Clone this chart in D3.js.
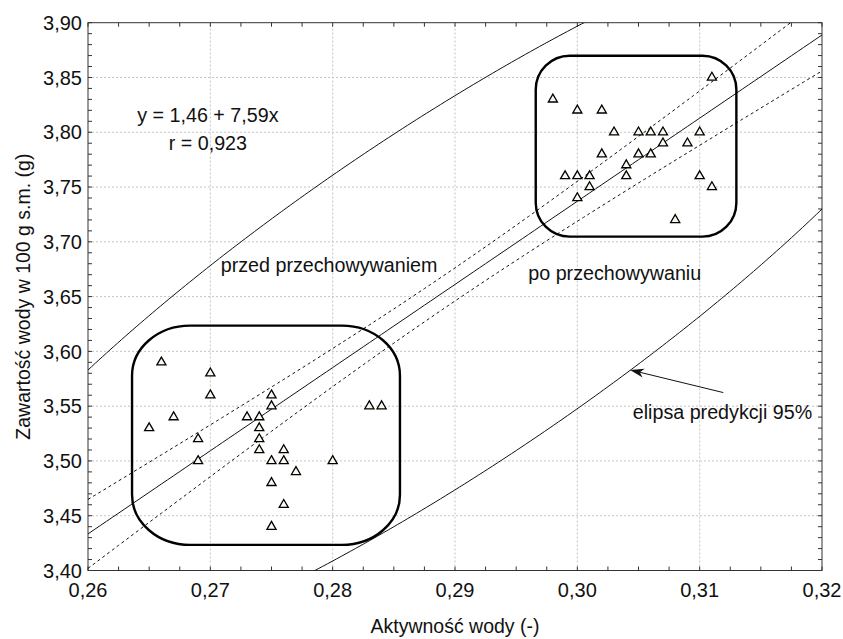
<!DOCTYPE html>
<html><head><meta charset="utf-8">
<script src="https://cdn.jsdelivr.net/npm/d3@7"></script>
<style>
body{margin:0;background:#fff}
text{font-family:"Liberation Sans",Arial,sans-serif;fill:#111}
</style>
</head><body>
<svg id="chart" width="843" height="639"></svg>
<script>
// ---- data ----
const xBefore = [0.266,0.270,0.270,0.275,0.275,0.267,0.273,0.274,0.265,0.274,0.269,0.274,0.274,0.276,0.269,0.275,0.276,0.280,0.277,0.275,0.276,0.283,0.284,0.275];
const yBefore = [3.59,3.58,3.56,3.56,3.55,3.54,3.54,3.54,3.53,3.53,3.52,3.52,3.51,3.51,3.50,3.50,3.50,3.50,3.49,3.48,3.46,3.55,3.55,3.44];
const xAfter = [0.311,0.298,0.300,0.302,0.303,0.305,0.306,0.307,0.310,0.307,0.309,0.302,0.305,0.306,0.304,0.299,0.300,0.301,0.304,0.310,0.301,0.311,0.300,0.308];
const yAfter = [3.85,3.83,3.82,3.82,3.80,3.80,3.80,3.80,3.80,3.79,3.79,3.78,3.78,3.78,3.77,3.76,3.76,3.76,3.76,3.76,3.75,3.75,3.74,3.72];
const xTicks = [0.26,0.27,0.28,0.29,0.30,0.31,0.32];
const yTicks = [3.40,3.45,3.50,3.55,3.60,3.65,3.70,3.75,3.80,3.85,3.90];
const intercept = 1.46, slope = 7.59, rValue = 0.923;
const tCrit = 2.013;                  // t(0.975, n-2)
const ellipseCenter = [0.2892, 3.648];
const ellipseSemi = [0.0445, 0.355];  // x, y extents of prediction ellipse
const ellipseRho = 0.862;
const groupBoxes = [[0.2636,0.2855,3.4234,3.6235],[0.2966,0.3130,3.7047,3.8699]];
const groupLabels = ["przed przechowywaniem","po przechowywaniu"];
const eqLabel = "y = 1,46 + 7,59x", rLabel = "r = 0,923", ellLabel = "elipsa predykcji 95%";
const xTitle = "Aktywność wody (-)", yTitle = "Zawartość wody w 100 g s.m. (g)";

// ---- layout ----
const W = 843, H = 639;
const m = {left: 88, right: 21, top: 22.7, bottom: 68.5};
const svg = d3.select("#chart");
const x = d3.scaleLinear().domain([0.26,0.32]).range([m.left, W - m.right]);
const y = d3.scaleLinear().domain([3.40,3.90]).range([H - m.bottom, m.top]);
const fmt = v => d3.format(".2f")(v).replace(".", ",");

svg.append("defs").append("clipPath").attr("id","clip")
  .append("rect").attr("x",x(0.26)).attr("y",y(3.90))
  .attr("width",x(0.32)-x(0.26)).attr("height",y(3.40)-y(3.90));

// grid
const grid = svg.append("g").attr("stroke","#c4c4c4").attr("stroke-width",1).attr("stroke-dasharray","2,2");
xTicks.slice(1,-1).forEach(v => grid.append("line").attr("x1",x(v)).attr("x2",x(v)).attr("y1",y(3.40)).attr("y2",y(3.90)));
yTicks.slice(1,-1).forEach(v => grid.append("line").attr("y1",y(v)).attr("y2",y(v)).attr("x1",x(0.26)).attr("x2",x(0.32)));

// frame + inward ticks
const frame = svg.append("g").attr("stroke","#333").attr("stroke-width",1);
frame.append("rect").attr("x",x(0.26)).attr("y",y(3.90)).attr("width",x(0.32)-x(0.26)).attr("height",y(3.40)-y(3.90)).attr("fill","none");
const tl = 4;
d3.range(0,25).map(i => 0.26 + i*0.0025).forEach(v => {
  frame.append("line").attr("x1",x(v)).attr("x2",x(v)).attr("y1",y(3.40)).attr("y2",y(3.40)-tl);
  frame.append("line").attr("x1",x(v)).attr("x2",x(v)).attr("y1",y(3.90)).attr("y2",y(3.90)+tl);
});
d3.range(0,51).map(i => 3.40 + i*0.01).forEach(v => {
  frame.append("line").attr("y1",y(v)).attr("y2",y(v)).attr("x1",x(0.26)).attr("x2",x(0.26)+tl);
  frame.append("line").attr("y1",y(v)).attr("y2",y(v)).attr("x1",x(0.32)).attr("x2",x(0.32)-tl);
});

// tick labels
svg.append("g").selectAll("text").data(yTicks).join("text")
  .attr("x", m.left - 6).attr("y", d => y(d)).attr("dy","0.36em")
  .attr("text-anchor","end").attr("font-size",20).text(fmt);
svg.append("g").selectAll("text").data(xTicks).join("text")
  .attr("x", d => x(d)).attr("y", H - m.bottom + 26)
  .attr("text-anchor","middle").attr("font-size",20).text(fmt);

// axis titles
svg.append("text").attr("x",(x(0.26)+x(0.32))/2).attr("y",633).attr("text-anchor","middle").attr("font-size",19.5).text(xTitle);
svg.append("text").attr("transform",`translate(30,${(y(3.40)+y(3.90))/2}) rotate(-90)`).attr("text-anchor","middle").attr("font-size",19.5).text(yTitle);

// stats
const xs = xBefore.concat(xAfter), ys = yBefore.concat(yAfter);
const n = xs.length, mx = d3.mean(xs);
const sxx = d3.sum(xs, v => (v-mx)*(v-mx));
const sse = d3.sum(xs.map((v,i) => { const r = ys[i] - (intercept + slope*v); return r*r; }));
const se = Math.sqrt(sse/(n-2));

const plot = svg.append("g").attr("clip-path","url(#clip)");
const xGrid = d3.range(0,121).map(i => 0.26 + i*0.0005);
const lineGen = d3.line().x(d => x(d[0])).y(d => y(d[1]));
// regression line
plot.append("path").attr("d", lineGen(xGrid.map(v => [v, intercept + slope*v])))
  .attr("fill","none").attr("stroke","#111").attr("stroke-width",1);
// confidence band
[-1,1].forEach(sgn => {
  plot.append("path").attr("d", lineGen(xGrid.map(v => [v, intercept + slope*v + sgn*tCrit*se*Math.sqrt(1/n + (v-mx)*(v-mx)/sxx)])))
    .attr("fill","none").attr("stroke","#111").attr("stroke-width",1).attr("stroke-dasharray","3,3");
});
// prediction ellipse
const tt = d3.range(0,721).map(i => i*Math.PI/360);
const rr = Math.sqrt(1-ellipseRho*ellipseRho);
const ell = tt.map(t => [ellipseCenter[0] + ellipseSemi[0]*Math.cos(t), ellipseCenter[1] + ellipseSemi[1]*(ellipseRho*Math.cos(t) + rr*Math.sin(t))]);
plot.append("path").attr("d", lineGen(ell) + "Z").attr("fill","none").attr("stroke","#111").attr("stroke-width",1);

// group boxes
groupBoxes.forEach((b,i) => {
  const rx = i === 0 ? 58 : 34, ry = i === 0 ? 50 : 34;
  svg.append("rect").attr("x",x(b[0])).attr("y",y(b[3])).attr("width",x(b[1])-x(b[0])).attr("height",y(b[2])-y(b[3]))
    .attr("rx",rx).attr("ry",ry).attr("fill","none").attr("stroke","#000").attr("stroke-width",2.4);
});

// points
const sym = d3.symbol().type(d3.symbolTriangle).size(36);
svg.append("g").selectAll("path").data(xs.map((v,i) => [v, ys[i]])).join("path")
  .attr("d", sym).attr("transform", d => `translate(${x(d[0])},${y(d[1])})`)
  .attr("fill","#fcf8ee").attr("stroke","#000").attr("stroke-width",1.3);

// annotations
svg.append("text").attr("x",x(0.2698)).attr("y",y(3.8158)).attr("dy","0.36em").attr("text-anchor","middle").attr("font-size",19.7).text(eqLabel);
svg.append("text").attr("x",x(0.2698)).attr("y",y(3.7902)).attr("dy","0.36em").attr("text-anchor","middle").attr("font-size",19.7).text(rLabel);
svg.append("text").attr("x",x(0.27085)).attr("y",y(3.6789)).attr("dy","0.36em").attr("font-size",19.7).text(groupLabels[0]);
svg.append("text").attr("x",x(0.29599)).attr("y",y(3.6713)).attr("dy","0.36em").attr("font-size",19.7).text(groupLabels[1]);
svg.append("text").attr("x",x(0.30453)).attr("y",y(3.5451)).attr("dy","0.36em").attr("font-size",19.7).text(ellLabel);

// arrow
const tail = [x(0.31193), y(3.5624)], tip = [x(0.30431), y(3.5831)];
const ang = Math.atan2(tip[1]-tail[1], tip[0]-tail[0]);
const L = 14, hw = 4.5, notch = 10;
const pt = (d, o) => [tip[0] - d*Math.cos(ang) - o*Math.sin(ang), tip[1] - d*Math.sin(ang) + o*Math.cos(ang)];
svg.append("line").attr("x1",tail[0]).attr("y1",tail[1]).attr("x2",pt(notch,0)[0]).attr("y2",pt(notch,0)[1]).attr("stroke","#111").attr("stroke-width",1);
svg.append("path").attr("d", d3.line()([tip, pt(L,hw), pt(notch,0), pt(L,-hw)]) + "Z").attr("fill","#111");
</script>
</body></html>
